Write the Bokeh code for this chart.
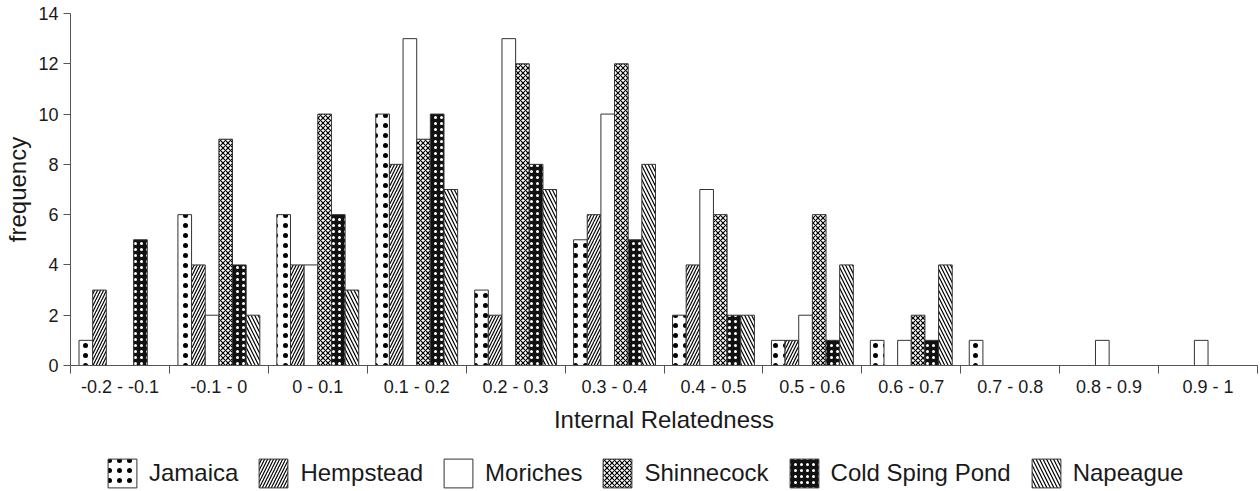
from bokeh.plotting import figure
from bokeh.layouts import column
from bokeh.models import ColumnDataSource, FixedTicker, Legend, LegendItem, Range1d
from bokeh.transform import dodge
from bokeh.embed import file_html
from bokeh.resources import INLINE

categories = ["-0.2 - -0.1", "-0.1 - 0", "0 - 0.1", "0.1 - 0.2", "0.2 - 0.3", "0.3 - 0.4",
              "0.4 - 0.5", "0.5 - 0.6", "0.6 - 0.7", "0.7 - 0.8", "0.8 - 0.9", "0.9 - 1"]
jamaica = [1, 6, 6, 10, 3, 5, 2, 1, 1, 1, 0, 0]
hempstead = [3, 4, 4, 8, 2, 6, 4, 1, 0, 0, 0, 0]
moriches = [0, 2, 4, 13, 13, 10, 7, 2, 1, 0, 1, 1]
shinnecock = [0, 9, 10, 9, 12, 12, 6, 6, 2, 0, 0, 0]
cold_sping_pond = [5, 4, 6, 10, 8, 5, 2, 1, 1, 0, 0, 0]
napeague = [0, 2, 3, 7, 7, 8, 2, 4, 4, 0, 0, 0]

series_names = ["Jamaica", "Hempstead", "Moriches", "Shinnecock", "Cold Sping Pond", "Napeague"]
series_values = [jamaica, hempstead, moriches, shinnecock, cold_sping_pond, napeague]
y_ticks = [0, 2, 4, 6, 8, 10, 12, 14]

FONT = "Liberation Sans"
TXT = "#1a1a1a"
AX = "#555555"

styles = [
    dict(fill_color="white", hatch_pattern="dot", hatch_scale=10, hatch_weight=1.0, hatch_color="black"),
    dict(fill_color="white", hatch_pattern="right_diagonal_line", hatch_scale=6, hatch_weight=1.2, hatch_color="black"),
    dict(fill_color="white"),
    dict(fill_color="white", hatch_pattern="diagonal_cross", hatch_scale=5, hatch_weight=1.2, hatch_color="black"),
    dict(fill_color="#111111", hatch_pattern="dot", hatch_scale=6, hatch_weight=2, hatch_color="white"),
    dict(fill_color="white", hatch_pattern="left_diagonal_line", hatch_scale=7, hatch_weight=1.2, hatch_color="black"),
]

centers = [i + 0.5 for i in range(len(categories))]
data = dict(x=centers)
for name, vals in zip(series_names, series_values):
    data[name] = vals
source = ColumnDataSource(data)

p = figure(width=1260, height=445, x_range=Range1d(0, len(categories)), y_range=Range1d(0, 14),
           output_backend="svg", toolbar_location=None,
           min_border_left=70, min_border_right=3, min_border_top=13, min_border_bottom=80)
p.outline_line_color = None
p.xgrid.visible = False
p.ygrid.visible = False

bw = 0.138
for k, name in enumerate(series_names):
    p.vbar(x=dodge("x", (k - 2.5) * bw, range=p.x_range), top=name, width=bw, source=source,
           line_color="#333333", line_width=1, **styles[k])

# y axis
p.yaxis.ticker = FixedTicker(ticks=y_ticks)
p.yaxis.axis_label = "frequency"
p.yaxis.axis_label_text_font = FONT
p.yaxis.axis_label_text_font_size = "24px"
p.yaxis.axis_label_text_font_style = "normal"
p.yaxis.axis_label_text_color = TXT
p.yaxis.axis_label_standoff = 4
p.yaxis.major_label_text_font = FONT
p.yaxis.major_label_text_font_size = "18px"
p.yaxis.major_label_text_color = TXT
p.yaxis.major_label_standoff = 5
p.yaxis.major_tick_in = 0
p.yaxis.major_tick_out = 7
p.yaxis.minor_tick_out = 0
p.yaxis.minor_tick_in = 0
p.yaxis.axis_line_color = AX
p.yaxis.major_tick_line_color = AX

# x axis: labels at category centres, ticks at category boundaries
p.xaxis.ticker = FixedTicker(ticks=centers, minor_ticks=list(range(len(categories) + 1)))
p.xaxis.major_label_overrides = {c: lab for c, lab in zip(centers, categories)}
p.xaxis.major_tick_in = 0
p.xaxis.major_tick_out = 0
p.xaxis.minor_tick_in = 0
p.xaxis.minor_tick_out = 8
p.xaxis.minor_tick_line_color = AX
p.xaxis.axis_line_color = AX
p.xaxis.major_label_text_font = FONT
p.xaxis.major_label_text_font_size = "18px"
p.xaxis.major_label_text_color = TXT
p.xaxis.major_label_standoff = 3
p.xaxis.axis_label = "Internal Relatedness"
p.xaxis.axis_label_text_font = FONT
p.xaxis.axis_label_text_font_size = "24px"
p.xaxis.axis_label_text_font_style = "normal"
p.xaxis.axis_label_text_color = TXT
p.xaxis.axis_label_standoff = 6

# legend strip (separate figure below the chart; its bars lie outside its visible ranges)
p2 = figure(width=1260, height=46, x_range=Range1d(-30, -18), y_range=Range1d(20, 21),
            output_backend="svg", toolbar_location=None, min_border=0,
            x_axis_location=None, y_axis_location=None)
p2.outline_line_color = None
p2.xgrid.visible = False
p2.ygrid.visible = False
leg_renderers = []
for k, name in enumerate(series_names):
    r = p2.vbar(x=dodge("x", (k - 2.5) * bw, range=p2.x_range), top=name, width=bw, source=source,
                line_color="#333333", line_width=1, **styles[k])
    leg_renderers.append(r)

legend = Legend(items=[LegendItem(label=n, renderers=[r]) for n, r in zip(series_names, leg_renderers)],
                orientation="horizontal", location=(34, 0),
                glyph_width=36, glyph_height=36, label_standoff=9, spacing=17,
                padding=0, margin=0, border_line_alpha=0, background_fill_alpha=0,
                label_text_font=FONT, label_text_font_size="24px", label_text_color=TXT)
p2.add_layout(legend)

layout = column(p, p2, spacing=0)
open("out.html", "w").write(file_html(layout, INLINE))
